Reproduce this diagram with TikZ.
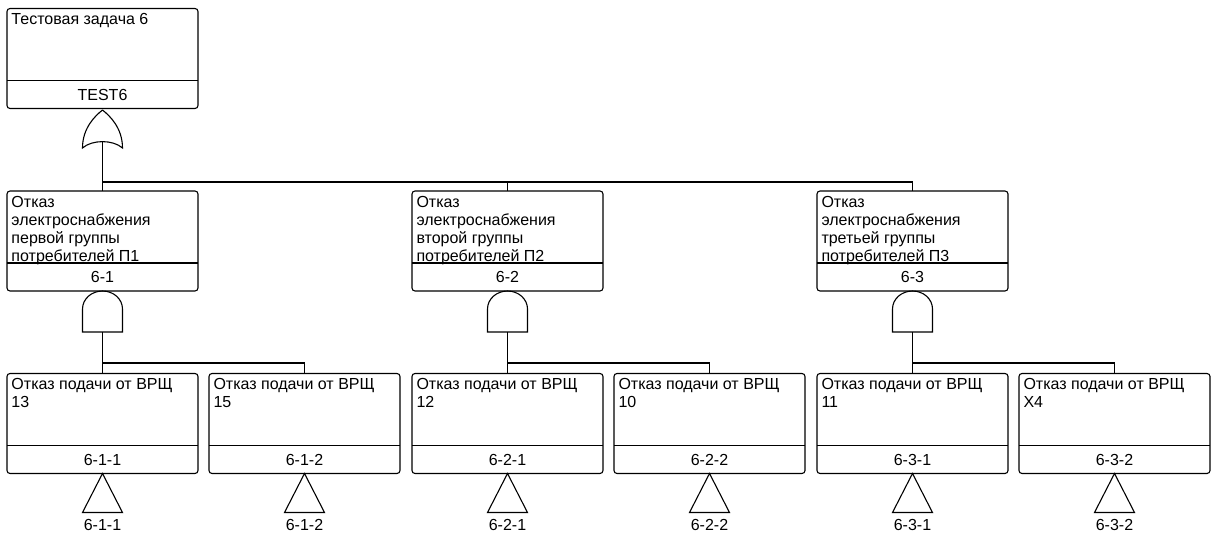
\documentclass[tikz,border=0pt]{standalone}
\usepackage{fontspec}
\setmainfont{Liberation Sans}
\begin{document}
\begin{tikzpicture}[x=1pt,y=-1pt,line width=1.1pt,
  every node/.style={font=\fontsize{16}{18}\selectfont, inner sep=0pt, outer sep=0pt},
  ftbox/.style={draw, rounded corners=3pt, minimum width=191pt, minimum height=100pt}]
\useasboundingbox (0,0) rectangle (1216,535);

\newcommand\ftbox[5]{%
  \node[ftbox, anchor=north west] (#1) at (#2,#3) {};
  \draw ([yshift=-72pt]#1.north west) -- ([yshift=-72pt]#1.north east);
  \node[anchor=north west, align=left] (#1txt) at ([xshift=4.5pt,yshift=-5pt]#1.north west) {#4};
  \node (#1id) at ([yshift=14pt]#1.south) {#5};
}
% AND gate: #1 name, top coordinate
\newcommand\andgate[2]{%
  \coordinate (#1out) at (#2);
  \draw ([shift={(-20,41)}]#1out) -- ([shift={(-20,18)}]#1out)
     arc[start angle=180, end angle=0, x radius=20pt, y radius=18pt]
     -- ([shift={(20,41)}]#1out) -- cycle;
  \coordinate (#1in) at ([shift={(0,41)}]#1out);
}
% transfer triangle: #1 name, apex, #2 label
\newcommand\transfer[3]{%
  \coordinate (#1top) at (#2);
  \draw (#1top) -- ([shift={(-20,39)}]#1top) -- ([shift={(20,39)}]#1top) -- cycle;
  \node[anchor=base] (#1lbl) at ([shift={(0,57)}]#1top) {#3};
}

% top event
\ftbox{b0}{7}{8.5}{Тестовая задача 6}{TEST6}
% OR gate
\coordinate (g0out) at (102.5,110);
\draw (g0out) .. controls (110,116) and (122.5,128) .. (122.5,148)
  .. controls (113,139.5) and (92,139.5) .. (82.5,148)
  .. controls (82.5,128) and (95,116) .. (g0out);
\coordinate (g0in) at (102.5,142.3);
\coordinate (bus0) at (102.5,182);

% intermediate events
\ftbox{m1}{7}{191}{Отказ\\электроснабжения\\первой группы\\потребителей П1}{6-1}
\ftbox{m2}{412}{191}{Отказ\\электроснабжения\\второй группы\\потребителей П2}{6-2}
\ftbox{m3}{817}{191}{Отказ\\электроснабжения\\третьей группы\\потребителей П3}{6-3}

\draw (g0in) -- (bus0) -- (m1.north);
\draw (bus0) -| (m2.north);
\draw (bus0) -| (m3.north);

% AND gates
\andgate{a1}{m1.south}
\andgate{a2}{m2.south}
\andgate{a3}{m3.south}

% basic events
\ftbox{e11}{7}{373.5}{Отказ подачи от ВРЩ\\13}{6-1-1}
\ftbox{e12}{209}{373.5}{Отказ подачи от ВРЩ\\15}{6-1-2}
\ftbox{e21}{412}{373.5}{Отказ подачи от ВРЩ\\12}{6-2-1}
\ftbox{e22}{614}{373.5}{Отказ подачи от ВРЩ\\10}{6-2-2}
\ftbox{e31}{817}{373.5}{Отказ подачи от ВРЩ\\11}{6-3-1}
\ftbox{e32}{1019}{373.5}{Отказ подачи от ВРЩ\\X4}{6-3-2}

\coordinate (bus1) at (102.5,363);
\coordinate (bus2) at (507.5,363);
\coordinate (bus3) at (912.5,363);
\draw (a1in) -- (bus1) -- (e11.north);
\draw (bus1) -| (e12.north);
\draw (a2in) -- (bus2) -- (e21.north);
\draw (bus2) -| (e22.north);
\draw (a3in) -- (bus3) -- (e31.north);
\draw (bus3) -| (e32.north);

% transfer symbols
\transfer{t11}{e11.south}{6-1-1}
\transfer{t12}{e12.south}{6-1-2}
\transfer{t21}{e21.south}{6-2-1}
\transfer{t22}{e22.south}{6-2-2}
\transfer{t31}{e31.south}{6-3-1}
\transfer{t32}{e32.south}{6-3-2}
\end{tikzpicture}
\end{document}
